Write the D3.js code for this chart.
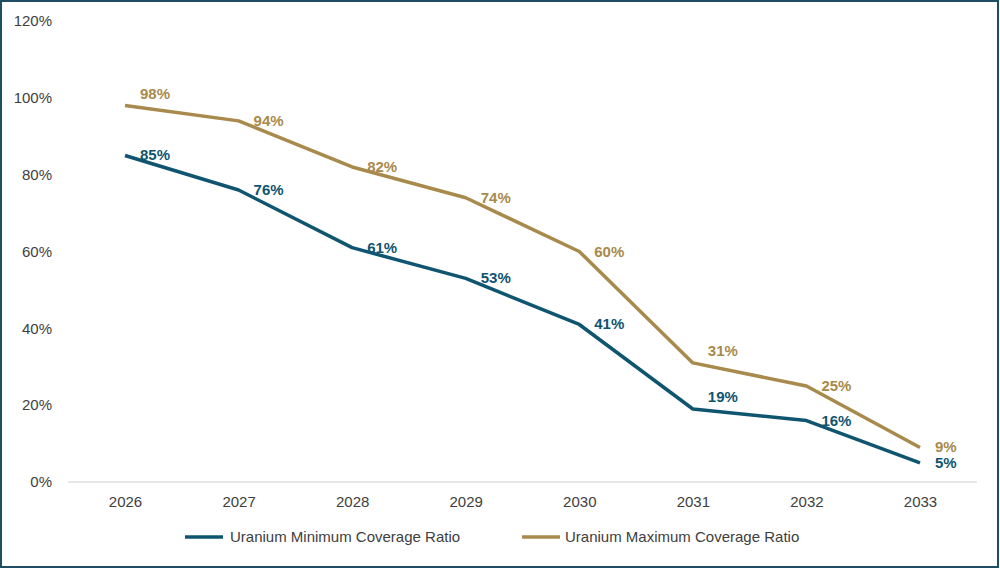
<!DOCTYPE html>
<html><head><meta charset="utf-8">
<script src="https://cdn.jsdelivr.net/npm/d3@7"></script>
<style>body{margin:0;background:#fff}svg{display:block}</style>
</head><body>
<svg id="c" width="1000" height="569"></svg>
<script>
const years = ["2026","2027","2028","2029","2030","2031","2032","2033"];
const minVals = [85,76,61,53,41,19,16,5];
const maxVals = [98,94,82,74,60,31,25,9];
const yTicks = [0,20,40,60,80,100,120];
const seriesNames = ["Uranium Minimum Coverage Ratio","Uranium Maximum Coverage Ratio"];
const colors = ["#0f5570","#a88a4c"];

const svg = d3.select("#c");
const font = "Liberation Sans, Arial, sans-serif";
svg.append("rect").attr("x",1).attr("y",1).attr("width",997).attr("height",566)
  .attr("fill","#fff").attr("stroke","#1d4e63").attr("stroke-width",2);

const x = d3.scalePoint().domain(years).range([125,920]);
const y = d3.scaleLinear().domain([0,120]).range([482,21]);

const yAxis = svg.append("g").attr("transform","translate(56,0)")
  .call(d3.axisLeft(y).tickValues(yTicks).tickFormat(d=>d+"%").tickSize(0).tickPadding(4));
yAxis.select(".domain").remove();
yAxis.selectAll("text").attr("font-family",font).attr("font-size",15).attr("fill","#404040");

svg.append("line").attr("x1",68).attr("x2",977).attr("y1",y(0)).attr("y2",y(0))
  .attr("stroke","#d0d0d0").attr("stroke-width",1);
const xAxis = svg.append("g").attr("transform",`translate(0,${y(0)})`)
  .call(d3.axisBottom(x).tickSize(0).tickPadding(14));
xAxis.select(".domain").remove();
xAxis.selectAll("text").attr("font-family",font).attr("font-size",15).attr("fill","#404040");

const line = d3.line().x((d,i)=>x(years[i])).y(d=>y(d));
[minVals,maxVals].forEach((vals,s)=>{
  svg.append("path").datum(vals).attr("d",line).attr("fill","none")
    .attr("stroke",colors[s]).attr("stroke-width",3.5).attr("stroke-linejoin","round");
});
// labels: centered right of each point, except a couple placed above
[minVals,maxVals].forEach((vals,s)=>{
  svg.selectAll(null).data(vals).enter().append("text")
    .attr("x",(d,i)=>x(years[i])+15)
    .attr("y",(d,i)=>y(d)+5-((s===0&&i===5)||(s===1&&(i===0||i===5))?12:0))
    .attr("font-family",font).attr("font-size",15).attr("font-weight","bold")
    .attr("fill",colors[s]).text(d=>d+"%");
});
// legend
const lg = [[185,230],[522,565]];
seriesNames.forEach((n,s)=>{
  svg.append("line").attr("x1",lg[s][0]).attr("x2",lg[s][0]+38).attr("y1",537).attr("y2",537)
    .attr("stroke",colors[s]).attr("stroke-width",3.5);
  svg.append("text").attr("x",lg[s][1]).attr("y",542).attr("font-family",font)
    .attr("font-size",15).attr("fill","#404040").text(n);
});
</script>
</body></html>
